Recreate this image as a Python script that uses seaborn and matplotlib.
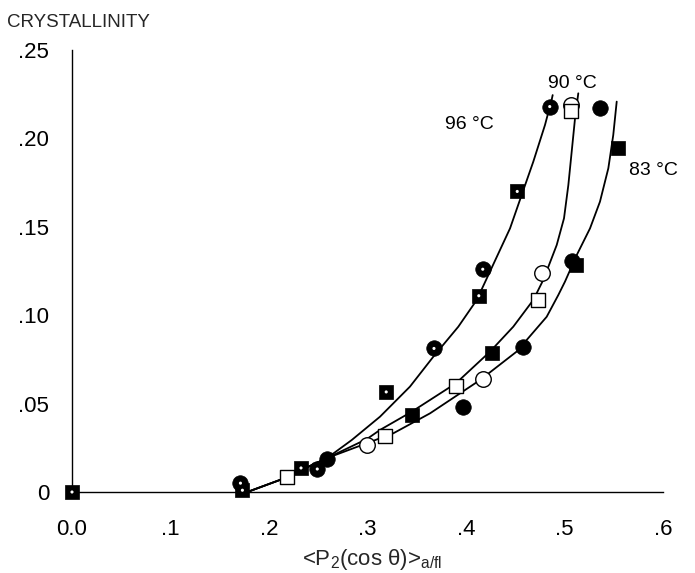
import numpy as np
import pandas as pd
import matplotlib
matplotlib.use("Agg")
import matplotlib.pyplot as plt
import seaborn as sns

# ---------------- data ----------------
# 96 °C : filled markers with a white centre dot
c96_x = [0.171, 0.249, 0.3675, 0.417, 0.485]
c96_y = [0.005, 0.013, 0.0812, 0.126, 0.218]
s96_x = [0.0, 0.173, 0.2325, 0.319, 0.413, 0.452]
s96_y = [0.0, 0.001, 0.0136, 0.0566, 0.111, 0.170]
# 90 °C : open markers
c90_x = [0.2995, 0.417, 0.477, 0.507]
c90_y = [0.0266, 0.0637, 0.124, 0.219]
s90_x = [0.218, 0.318, 0.390, 0.4734, 0.507]
s90_y = [0.0085, 0.0317, 0.060, 0.1086, 0.2155]
# 83 °C : solid filled markers
c83_x = [0.259, 0.397, 0.4575, 0.5076, 0.536]
c83_y = [0.0187, 0.0483, 0.0822, 0.1306, 0.217]
s83_x = [0.3455, 0.4264, 0.5117, 0.5543]
s83_y = [0.0436, 0.0786, 0.1284, 0.1946]

# fitted curves
fit96_x = [0.178, 0.211, 0.259, 0.284, 0.3127, 0.3431, 0.3668, 0.3922, 0.4109,
           0.4447, 0.4565, 0.4683, 0.4802, 0.4869, 0.488]
fit96_y = [0.0, 0.0068, 0.0192, 0.0294, 0.0426, 0.0596, 0.0765, 0.0935, 0.1086,
           0.1491, 0.168, 0.1868, 0.2076, 0.2217, 0.2245]
fit90_x = [0.178, 0.211, 0.259, 0.2995, 0.3127, 0.3449, 0.3898, 0.4244, 0.448,
           0.4683, 0.4785, 0.4921, 0.4995, 0.5039, 0.5073, 0.5107, 0.514]
fit90_y = [0.0, 0.0068, 0.0192, 0.0300, 0.0351, 0.0454, 0.0615, 0.0794, 0.0935,
           0.1086, 0.120, 0.1397, 0.1548, 0.1736, 0.1925, 0.2114, 0.2255]
fit83_x = [0.178, 0.211, 0.259, 0.3262, 0.3635, 0.4142, 0.4514, 0.4819, 0.4937,
           0.5005, 0.5124, 0.5259, 0.536, 0.5445, 0.5495, 0.553]
fit83_y = [0.0, 0.0068, 0.0192, 0.0332, 0.0445, 0.0633, 0.0794, 0.0991, 0.1114,
           0.119, 0.134, 0.1491, 0.1642, 0.1831, 0.2019, 0.2208]

labels = ["96 °C", "90 °C", "83 °C"]
label_x = [0.403, 0.508, 0.590]
label_y = [0.208, 0.231, 0.1816]

xticks = [0.0, 0.1, 0.2, 0.3, 0.4, 0.5, 0.6]
xticklabels = ["0.0", ".1", ".2", ".3", ".4", ".5", ".6"]
yticks = [0.0, 0.05, 0.10, 0.15, 0.20, 0.25]
yticklabels = ["0", ".05", ".10", ".15", ".20", ".25"]

# ---------------- style ----------------
sns.set_style("white")
plt.rcParams["font.family"] = ["Liberation Sans", "DejaVu Sans"]
plt.rcParams["mathtext.fontset"] = "custom"
plt.rcParams["mathtext.rm"] = "Liberation Sans"
plt.rcParams["mathtext.it"] = "Liberation Sans:italic"
plt.rcParams["mathtext.default"] = "regular"

fig = plt.figure(figsize=(6.95, 5.73), dpi=100)
ax = fig.add_axes([72 / 695, 81 / 573, 591 / 695, 442 / 573])

# curves
curves = pd.concat([
    pd.DataFrame({"x": fit96_x, "y": fit96_y, "T": "96"}),
    pd.DataFrame({"x": fit90_x, "y": fit90_y, "T": "90"}),
    pd.DataFrame({"x": fit83_x, "y": fit83_y, "T": "83"}),
])
sns.lineplot(data=curves, x="x", y="y", units="T", estimator=None, sort=False,
             color="black", linewidth=1.3, ax=ax, legend=False, zorder=2)

def pts(x, y):
    return pd.DataFrame({"x": x, "y": y})

kw = dict(ax=ax, legend=False, clip_on=False, zorder=3)
# 96: black with white dot
sns.scatterplot(data=pts(c96_x, c96_y), x="x", y="y", marker="o", s=125,
                color="black", edgecolor="black", linewidth=0.5, **kw)
sns.scatterplot(data=pts(s96_x, s96_y), x="x", y="y", marker="s", s=105,
                color="black", edgecolor="black", linewidth=0.5, **kw)
sns.scatterplot(data=pts(c96_x + s96_x, c96_y + s96_y), x="x", y="y", marker="o",
                s=5, color="white", edgecolor="none", ax=ax, legend=False,
                clip_on=False, zorder=4)
# 90: open
sns.scatterplot(data=pts(c90_x, c90_y), x="x", y="y", marker="o", s=125,
                color="white", edgecolor="black", linewidth=1.0, **kw)
sns.scatterplot(data=pts(s90_x, s90_y), x="x", y="y", marker="s", s=105,
                color="white", edgecolor="black", linewidth=1.0, **kw)
# 83: solid
sns.scatterplot(data=pts(c83_x, c83_y), x="x", y="y", marker="o", s=125,
                color="black", edgecolor="black", linewidth=0.5, **kw)
sns.scatterplot(data=pts(s83_x, s83_y), x="x", y="y", marker="s", s=105,
                color="black", edgecolor="black", linewidth=0.5, **kw)

for t, lx, ly in zip(labels, label_x, label_y):
    ax.text(lx, ly, t, ha="center", va="center", fontsize=14, color="black")

ax.set_xlim(0, 0.6)
ax.set_ylim(0, 0.25)
ax.set_xticks(xticks)
ax.set_xticklabels(xticklabels)
ax.set_yticks(yticks)
ax.set_yticklabels(yticklabels)
ax.tick_params(axis="both", which="major", direction="out", length=8.5, width=1.0,
               labelsize=16, color="black", labelcolor="black")
ax.tick_params(axis="x", pad=11)
ax.tick_params(axis="y", pad=8)
for s in ["top", "right"]:
    ax.spines[s].set_visible(False)
for s in ["left", "bottom"]:
    ax.spines[s].set_color("black")
    ax.spines[s].set_linewidth(1.0)
ax.set_xlabel("")
ax.set_ylabel("")

fig.text(7 / 695, 1 - 27 / 573, "CRYSTALLINITY", ha="left", va="baseline",
         fontsize=13.5)
fig.text(372 / 695, 1 - 565 / 573, r"<P$_2$(cos θ)>$_{a/fl}$", ha="center",
         va="baseline", fontsize=16)

fig.savefig("out.png", dpi=100)
